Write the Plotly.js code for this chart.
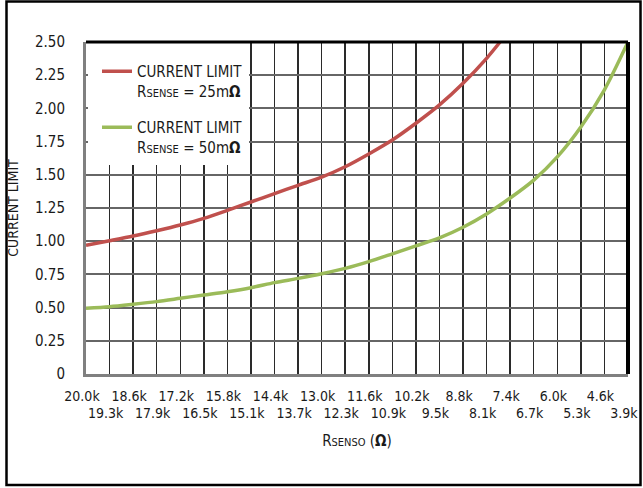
<!DOCTYPE html>
<html>
<head>
<meta charset="utf-8">
<script src="https://cdn.plot.ly/plotly-3.0.1.min.js"></script>
<style>
  html, body { margin: 0; padding: 0; background: #fff; }
  #chart { width: 643px; height: 488px; }
</style>
</head>
<body>
<div id="chart"></div>
<script>
// Resistance tick positions (kOhm) and labels
const tickValsK = [20.0, 19.3, 18.6, 17.9, 17.2, 16.5, 15.8, 15.1, 14.4, 13.7, 13.0, 12.3,
                   11.6, 10.9, 10.2, 9.5, 8.8, 8.1, 7.4, 6.7, 6.0, 5.3, 4.6, 3.9];
const tickLabelsTop = ['20.0k', '', '18.6k', '', '17.2k', '', '15.8k', '', '14.4k', '', '13.0k', '',
                       '11.6k', '', '10.2k', '', '8.8k', '', '7.4k', '', '6.0k', '', '4.6k', ''];
const tickValsBottom = [19.3, 17.9, 16.5, 15.1, 13.7, 12.3, 10.9, 9.5, 8.1, 6.7, 5.3, 3.9];
const tickLabelsBottom = ['19.3k', '17.9k', '16.5k', '15.1k', '13.7k', '12.3k', '10.9k', '9.5k',
                          '8.1k', '6.7k', '5.3k', '3.9k'];
const yTickVals = [0, 0.25, 0.5, 0.75, 1.0, 1.25, 1.5, 1.75, 2.0, 2.25, 2.5];
const yTickLabels = ['0', '0.25', '0.50', '0.75', '1.00', '1.25', '1.50', '1.75', '2.00', '2.25', '2.50'];

// Series: RSENSE = 25 mOhm
const r25K = [20.0, 19.3, 18.6, 17.9, 17.2, 16.5, 15.8, 15.1, 14.4, 13.7, 13.0, 12.3,
              11.6, 10.9, 10.2, 9.5, 8.8, 8.1, 7.7];
const i25 = [0.97, 1.004, 1.039, 1.079, 1.122, 1.172, 1.232, 1.295, 1.358, 1.421, 1.483, 1.561,
             1.657, 1.762, 1.888, 2.026, 2.189, 2.377, 2.50];
// Series: RSENSE = 50 mOhm
const r50K = [20.0, 19.3, 18.6, 17.9, 17.2, 16.5, 15.8, 15.1, 14.4, 13.7, 13.0, 12.3,
              11.6, 10.9, 10.2, 9.5, 8.8, 8.1, 7.4, 6.7, 6.0, 5.3, 4.6, 3.9];
const i50 = [0.495, 0.507, 0.525, 0.545, 0.57, 0.595, 0.62, 0.65, 0.688, 0.72, 0.755, 0.795,
             0.846, 0.905, 0.965, 1.025, 1.105, 1.205, 1.325, 1.46, 1.635, 1.86, 2.14, 2.50];

const FONT = '"Liberation Sans Narrow", "Arial Narrow", "DejaVu Sans Condensed", sans-serif';
const RED = '#C0504D';
const GREEN = '#9BBB59';
const TXT = '#1a1a1a';

const traces = [
  {
    x: r25K, y: i25, type: 'scatter', mode: 'lines', legendgroup: 'a',
    name: 'CURRENT LIMIT<br>R<span style="font-size:11px">SENSE</span> = 25m<b>Ω</b>',
    line: { color: RED, width: 3.5, shape: 'spline', smoothing: 0.8 },
    xaxis: 'x', yaxis: 'y'
  },
  {
    x: r50K, y: i50, type: 'scatter', mode: 'lines', legendgroup: 'b',
    name: 'CURRENT LIMIT<br>R<span style="font-size:11px">SENSE</span> = 50m<b>Ω</b>',
    line: { color: GREEN, width: 3.5, shape: 'spline', smoothing: 0.8 },
    xaxis: 'x', yaxis: 'y'
  },
  {
    x: [], y: [], type: 'scatter', mode: 'lines', showlegend: false, hoverinfo: 'skip',
    xaxis: 'x2', yaxis: 'y'
  }
];

const L = 86, R = 628, T = 42, B = 374, W = 643, H = 488;
const pw = R - L, ph = B - T;
const px = v => (v - L) / pw;
const py = v => (B - v) / ph;
const XR = [20.0, 3.8999];

const layout = {
  width: W, height: H,
  margin: { l: L, r: W - R, t: T, b: H - B, pad: 0 },
  paper_bgcolor: '#ffffff',
  plot_bgcolor: '#ffffff',
  font: { family: FONT, size: 14, color: TXT },
  showlegend: true,
  legend: {
    x: px(97), y: py(55), xanchor: 'left', yanchor: 'top',
    bgcolor: 'rgba(0,0,0,0)', borderwidth: 0,
    font: { family: FONT, size: 15, color: TXT },
    valign: 'top', traceorder: 'grouped', tracegroupgap: 14
  },
  xaxis: {
    range: XR, autorange: false,
    tickmode: 'array', tickvals: tickValsK, ticktext: tickLabelsTop,
    ticks: '', showgrid: true, gridcolor: '#2a2a2a', gridwidth: 1.5,
    showline: true, linecolor: '#808080', linewidth: 3,
    zeroline: false, ticklabelstandoff: 7, ticklabelshift: 4,
    ticklabeloverflow: 'allow',
    tickfont: { family: FONT, size: 14, color: TXT }
  },
  xaxis2: {
    overlaying: 'x', anchor: 'y', side: 'bottom',
    range: XR, autorange: false,
    tickmode: 'array', tickvals: tickValsBottom, ticktext: tickLabelsBottom,
    ticks: '', showgrid: false, showline: false, zeroline: false,
    ticklabelstandoff: 29, ticklabelshift: 4, ticklabeloverflow: 'allow',
    tickfont: { family: FONT, size: 14, color: TXT },
    title: {
      text: 'R<span style="font-size:11px">SENSO</span> (<b>Ω</b>)',
      font: { family: FONT, size: 15, color: TXT },
      standoff: 15
    }
  },
  yaxis: {
    range: [0, 2.5], autorange: false,
    tickmode: 'array', tickvals: yTickVals, ticktext: yTickLabels,
    ticks: '', showgrid: true, gridcolor: '#666666', gridwidth: 2,
    showline: true, linecolor: '#808080', linewidth: 3,
    zeroline: false, ticklabelstandoff: 15,
    tickfont: { family: FONT, size: 15, color: TXT },
    title: {
      text: 'CURRENT LIMIT',
      font: { family: FONT, size: 14, color: TXT },
      standoff: 14
    }
  },
  shapes: [
    // white box behind legend
    { type: 'rect', xref: 'paper', yref: 'paper',
      x0: px(88), x1: px(249), y0: py(165), y1: py(43),
      line: { width: 0 }, fillcolor: '#ffffff', layer: 'above' },
    // top border of plot (black)
    { type: 'line', xref: 'paper', yref: 'paper', x0: 0, x1: 1, y0: 1, y1: 1,
      line: { color: '#000000', width: 3 }, layer: 'above' },
    // right border of plot (black, thick)
    { type: 'line', xref: 'paper', yref: 'paper', x0: 1, x1: 1, y0: 0, y1: 1,
      line: { color: '#000000', width: 4 }, layer: 'above' },
    // outer frame
    { type: 'rect', xref: 'paper', yref: 'paper',
      x0: px(6.5), x1: px(640.5), y0: py(485), y1: py(1.5),
      line: { color: '#000000', width: 2.5 }, fillcolor: 'rgba(0,0,0,0)', layer: 'above' }
  ]
};

Plotly.newPlot('chart', traces, layout, { staticPlot: true, displayModeBar: false });
</script>
</body>
</html>
